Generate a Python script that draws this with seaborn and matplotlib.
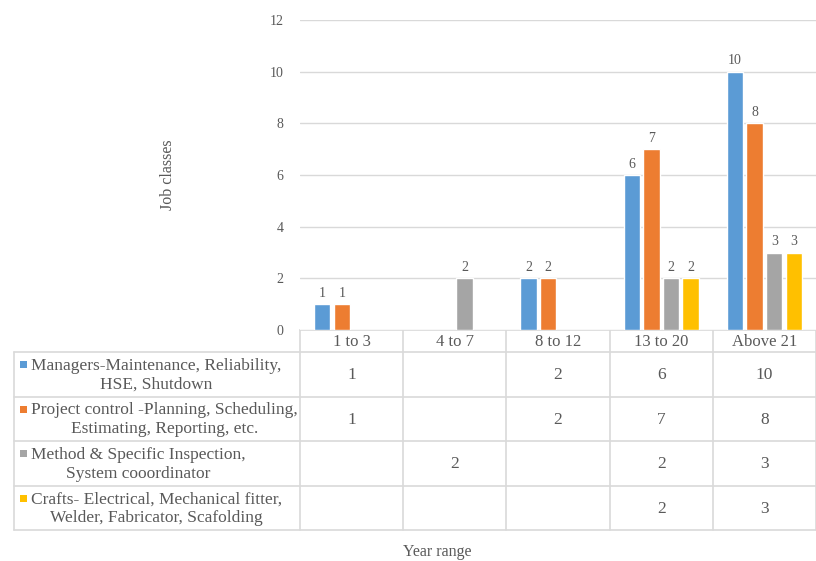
import numpy as np
import pandas as pd
import matplotlib
matplotlib.use("Agg")
import matplotlib.pyplot as plt
import seaborn as sns

# Year ranges on the x axis
year_ranges = ["1 to 3", "4 to 7", "8 to 12", "13 to 20", "Above 21"]

# Job classes (series) and their counts per year range; None = no entry
job_classes = [
    "Managers-Maintenance, Reliability,\nHSE, Shutdown",
    "Project control -Planning, Scheduling,\nEstimating, Reporting, etc.",
    "Method & Specific Inspection,\nSystem cooordinator",
    "Crafts- Electrical, Mechanical fitter,\nWelder, Fabricator, Scafolding",
]
managers = [1, None, 2, 6, 10]
project_control = [1, None, 2, 7, 8]
method_inspection = [None, 2, None, 2, 3]
crafts = [None, None, None, 2, 3]

series_values = [managers, project_control, method_inspection, crafts]
colors = ["#5B9BD5", "#ED7D31", "#A5A5A5", "#FFC000"]
y_ticks = [0, 2, 4, 6, 8, 10, 12]

text_color = "#595959"
line_color = "#D9D9D9"

sns.set_theme(style="white")
plt.rcParams["font.family"] = ["Liberation Serif", "DejaVu Serif"]

rows = []
for name, vals in zip(job_classes, series_values):
    for yr, v in zip(year_ranges, vals):
        rows.append({"Year range": yr, "Job class": name,
                     "Count": np.nan if v is None else v})
df = pd.DataFrame(rows)

W, H = 816, 561
fig = plt.figure(figsize=(W / 100, H / 100), dpi=100)

ax_left, ax_right, ax_top, ax_bottom = 300, 816, 20, 330
ax = fig.add_axes([ax_left / W, 1 - ax_bottom / H,
                   (ax_right - ax_left) / W, (ax_bottom - ax_top) / H])

sns.barplot(data=df, x="Year range", y="Count", hue="Job class",
            order=year_ranges, hue_order=job_classes, palette=colors,
            width=0.76, gap=0.16, legend=False, ax=ax, errorbar=None,
            saturation=1)

for cont in ax.containers:
    ax.bar_label(cont, fmt="{:g}", padding=3, fontsize=10, color=text_color)

ax.set_xlim(-0.5, len(year_ranges) - 0.5)
ax.set_ylim(0, 12)
ax.set_yticks(y_ticks)
ax.set_yticklabels([str(t) for t in y_ticks], fontsize=10, color=text_color)
ax.tick_params(axis="y", length=0, pad=12)
ax.set_xticks([])
ax.set_xlabel("")
ax.set_ylabel("")
ax.yaxis.grid(True, color=line_color, linewidth=1)
ax.set_axisbelow(True)
for s in ax.spines.values():
    s.set_visible(False)

# Overlay in pixel coordinates for the data table and axis titles
ov = fig.add_axes([0, 0, 1, 1], zorder=-1)
ov.set_xlim(0, W)
ov.set_ylim(H, 0)
ov.axis("off")

# Column boundaries derived from the bar axis scale
fig.canvas.draw()
inv = ov.transData.inverted()
def to_px(xval):
    disp = ax.transData.transform((xval, 0))
    return inv.transform(disp)[0]

bounds = [to_px(i - 0.5) for i in range(len(year_ranges) + 1)]
centers = [to_px(i) for i in range(len(year_ranges))]

table_left = 14
header_top, header_bottom = 330, 352
row_edges = [352, 396.5, 441, 485.5, 530]

lw = 1.2
ov.plot([bounds[0], W], [header_top, header_top], color=line_color, lw=lw)
for y in row_edges:
    ov.plot([table_left, W], [y, y], color=line_color, lw=lw)
ov.plot([table_left, table_left], [row_edges[0], row_edges[-1]], color=line_color, lw=lw)
for b in bounds:
    ov.plot([b, b], [header_top, row_edges[-1]], color=line_color, lw=lw)

cell_fs = 12.5
for c, yr in zip(centers, year_ranges):
    ov.text(c, (header_top + header_bottom) / 2 + 1, yr, ha="center", va="center",
            fontsize=12, color=text_color)

for i, (name, vals, col) in enumerate(zip(job_classes, series_values, colors)):
    yc = (row_edges[i] + row_edges[i + 1]) / 2
    ov.text(31, yc + 1, name, ha="left", va="center", multialignment="center",
            fontsize=cell_fs, color=text_color, linespacing=1.25)
    ov.add_patch(plt.Rectangle((20, yc - 13), 7, 7, color=col, lw=0))
    for c, v in zip(centers, vals):
        if v is not None:
            ov.text(c, yc + 1, f"{v:g}", ha="center", va="center",
                    fontsize=cell_fs, color=text_color)

ov.text(168, 175, "Job classes", rotation=90, ha="center", va="center",
        fontsize=11.5, color=text_color)
ov.text(437, 552, "Year range", ha="center", va="center",
        fontsize=11.5, color=text_color)

fig.savefig("out.png", dpi=100, facecolor="white")
